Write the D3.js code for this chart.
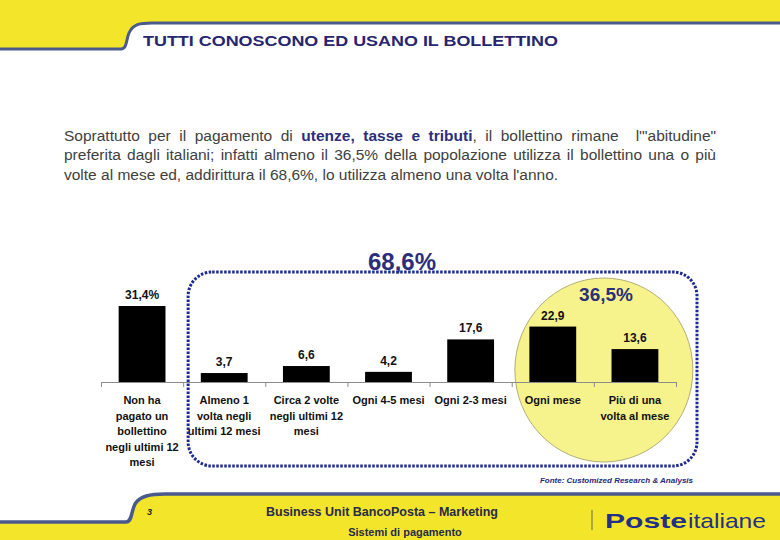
<!DOCTYPE html>
<html>
<head>
<meta charset="utf-8">
<script src="https://cdn.jsdelivr.net/npm/d3@7/dist/d3.min.js"></script>
<style>
  html, body { margin: 0; padding: 0; background: #ffffff; }
  svg { display: block; font-family: "Liberation Sans", Arial, sans-serif; }
</style>
</head>
<body>
<svg id="chart" width="780" height="540"></svg>
<script>
// ---------------- DATA ----------------
const categories = [
  "Non ha pagato un bollettino negli ultimi 12 mesi",
  "Almeno 1 volta negli ultimi 12 mesi",
  "Circa 2 volte negli ultimi 12 mesi",
  "Ogni 4-5 mesi",
  "Ogni 2-3 mesi",
  "Ogni mese",
  "Più di una volta al mese"
];
const categoryLines = [
  ["Non ha", "pagato un", "bollettino", "negli ultimi 12", "mesi"],
  ["Almeno 1", "volta negli", "ultimi 12 mesi"],
  ["Circa 2 volte", "negli ultimi 12", "mesi"],
  ["Ogni 4-5 mesi"],
  ["Ogni 2-3 mesi"],
  ["Ogni mese"],
  ["Più di una", "volta al mese"]
];
const values = [31.4, 3.7, 6.6, 4.2, 17.6, 22.9, 13.6];
const percentSuffix = [true, false, false, false, false, false, false];
const groupTotals = ["68,6%", "36,5%"];

const titleText = "TUTTI CONOSCONO ED USANO IL BOLLETTINO";
const sourceText = "Fonte: Customized Research & Analysis";
const footerLine1 = "Business Unit BancoPosta – Marketing";
const footerLine2 = "Sistemi di pagamento";
const pageNumber = "3";

// ---------------- SETUP ----------------
const svg = d3.select("#chart");
const YELLOW = "#f3e62a";
const LINE = "#4a5a8c";
const NAVY = "#2b2e7a";

// Header band
svg.append("path")
  .attr("d", "M0,0 L780,0 L780,23 L152,23 C140,23 133,24 129,33 C126,40 127,49 121,49 L0,49 Z")
  .attr("fill", YELLOW);
svg.append("path")
  .attr("d", "M0,49 L121,49 C127,49 126,40 129,33 C133,24 140,23 152,23 L780,23")
  .attr("fill", "none").attr("stroke", LINE).attr("stroke-width", 3);

// Footer band
svg.append("path")
  .attr("d", "M0,540 L0,522 L126,522 C132,522 131,512 135,504 C140,496 150,494 165,494 L780,494 L780,540 Z")
  .attr("fill", YELLOW);
svg.append("path")
  .attr("d", "M0,522 L126,522 C132,522 131,512 135,504 C140,496 150,494 165,494 L780,494")
  .attr("fill", "none").attr("stroke", LINE).attr("stroke-width", 3.5);

// Title
svg.append("text")
  .attr("x", 143).attr("y", 46)
  .attr("font-size", 14).attr("font-weight", "bold")
  .attr("fill", "#26266e")
  .attr("textLength", 415).attr("lengthAdjust", "spacingAndGlyphs")
  .text(titleText);

// ---------------- PARAGRAPH ----------------
const paraLines = [
  { y: 141, justify: true, segs: [
    { t: "Soprattutto per il pagamento di " },
    { t: "utenze, tasse e tributi", b: true },
    { t: ", il bollettino rimane  l'\"abitudine\"" }
  ]},
  { y: 160, justify: true, segs: [
    { t: "preferita dagli italiani; infatti almeno il 36,5% della popolazione utilizza il bollettino una o più" }
  ]},
  { y: 180, justify: false, segs: [
    { t: "volte al mese ed, addirittura il 68,6%, lo utilizza almeno una volta l'anno." }
  ]}
];
const paraX = 64, paraW = 652;
paraLines.forEach(line => {
  const t = svg.append("text")
    .attr("x", paraX).attr("y", line.y)
    .attr("font-size", 15.5)
    .attr("fill", "#404040")
    .style("white-space", "pre");
  line.segs.forEach(s => {
    t.append("tspan")
      .attr("font-weight", s.b ? "bold" : null)
      .attr("fill", s.b ? NAVY : null)
      .text(s.t);
  });
  if (line.justify) {
    const natural = t.node().getComputedTextLength();
    const full = line.segs.map(s => s.t).join("");
    const nSpaces = (full.match(/ /g) || []).length;
    const ws = (paraW - natural) / nSpaces;
    t.style("word-spacing", ws + "px");
  }
});

// ---------------- CHART ----------------
const x0 = 101, x1 = 676, baseY = 382;
const x = d3.scaleBand().domain(categories).range([x0, x1])
  .paddingInner(0.43).paddingOuter(0.215);
const xb = d3.scaleLinear().domain([0, categories.length]).range([x0, x1]);
const y = d3.scaleLinear().domain([0, 35]).range([baseY, baseY - 35 * 2.42]);

// Yellow ellipse behind last two categories
svg.append("ellipse")
  .attr("cx", xb(6) + 10).attr("cy", 370)
  .attr("rx", 89).attr("ry", 92)
  .attr("fill", "#f6f28c")
  .attr("stroke", "#b3ae78").attr("stroke-width", 1);

// Bars
svg.append("g").selectAll("rect")
  .data(values)
  .join("rect")
  .attr("x", (d, i) => x(categories[i]))
  .attr("width", x.bandwidth())
  .attr("y", d => y(d))
  .attr("height", d => baseY - y(d))
  .attr("fill", "#000000");

// Axis with boundary ticks
const axis = svg.append("g")
  .attr("transform", `translate(0,${baseY})`)
  .call(d3.axisBottom(xb).tickValues(d3.range(categories.length + 1))
    .tickFormat("").tickSizeInner(5).tickSizeOuter(0));
axis.select(".domain").attr("stroke", "#8c8c8c");
axis.selectAll(".tick line").attr("stroke", "#8c8c8c");

// Value labels
const fmt = d3.format(".1f");
svg.append("g").selectAll("text")
  .data(values)
  .join("text")
  .attr("x", (d, i) => x(categories[i]) + x.bandwidth() / 2)
  .attr("y", d => y(d) - 7)
  .attr("text-anchor", "middle")
  .attr("font-size", 12).attr("font-weight", "bold")
  .attr("fill", "#111")
  .text((d, i) => fmt(d).replace(".", ",") + (percentSuffix[i] ? "%" : ""));

// Category labels
const catG = svg.append("g");
categoryLines.forEach((lines, i) => {
  const t = catG.append("text")
    .attr("text-anchor", "middle")
    .attr("font-size", 11).attr("font-weight", "bold")
    .attr("fill", "#111");
  lines.forEach((ln, j) => {
    t.append("tspan")
      .attr("x", x(categories[i]) + x.bandwidth() / 2)
      .attr("y", 404 + j * 15.5)
      .text(ln);
  });
});

// Dotted rounded rectangle around the "at least once a year" group
svg.append("rect")
  .attr("x", xb(1) + 5).attr("y", 272)
  .attr("width", (x1 + 21) - (xb(1) + 5)).attr("height", 194)
  .attr("rx", 24).attr("ry", 24)
  .attr("fill", "none")
  .attr("stroke", "#1e2a92").attr("stroke-width", 3)
  .attr("stroke-dasharray", "2.5,1.5");

// Group totals
svg.append("text")
  .attr("x", 402).attr("y", 270)
  .attr("text-anchor", "middle")
  .attr("font-size", 24).attr("font-weight", "bold")
  .attr("fill", NAVY)
  .text(groupTotals[0]);
svg.append("text")
  .attr("x", 606).attr("y", 301)
  .attr("text-anchor", "middle")
  .attr("font-size", 19).attr("font-weight", "bold")
  .attr("fill", NAVY)
  .text(groupTotals[1]);

// Source
svg.append("text")
  .attr("x", 693).attr("y", 483)
  .attr("text-anchor", "end")
  .attr("font-size", 8).attr("font-weight", "bold").attr("font-style", "italic")
  .attr("fill", "#1e2a7a")
  .text(sourceText);

// ---------------- FOOTER TEXT ----------------
svg.append("text")
  .attr("x", 147).attr("y", 515)
  .attr("font-size", 9).attr("font-weight", "bold").attr("font-style", "italic")
  .attr("fill", "#222")
  .text(pageNumber);
svg.append("text")
  .attr("x", 382).attr("y", 516)
  .attr("text-anchor", "middle")
  .attr("font-size", 12.5).attr("font-weight", "bold")
  .attr("fill", "#2a2a4a")
  .text(footerLine1);
svg.append("text")
  .attr("x", 405).attr("y", 536)
  .attr("text-anchor", "middle")
  .attr("font-size", 11).attr("font-weight", "bold")
  .attr("fill", "#2a2a4a")
  .text(footerLine2);

// Logo
svg.append("line")
  .attr("x1", 592).attr("x2", 592).attr("y1", 510).attr("y2", 530)
  .attr("stroke", "#6a6a5a").attr("stroke-width", 1);
svg.append("text")
  .attr("x", 605).attr("y", 528)
  .attr("font-size", 21).attr("font-weight", "bold")
  .attr("fill", "#23308a")
  .attr("textLength", 82).attr("lengthAdjust", "spacingAndGlyphs")
  .text("Poste");
svg.append("text")
  .attr("x", 688).attr("y", 528)
  .attr("font-size", 21)
  .attr("fill", "#23308a")
  .attr("textLength", 78).attr("lengthAdjust", "spacingAndGlyphs")
  .text("italiane");
</script>
</body>
</html>
